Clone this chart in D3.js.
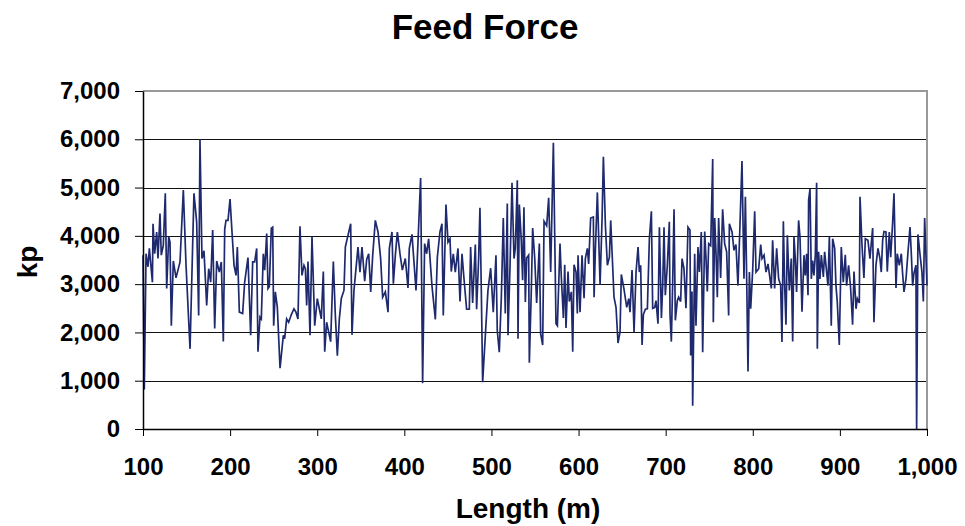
<!DOCTYPE html>
<html>
<head>
<meta charset="utf-8">
<script src="https://cdn.jsdelivr.net/npm/d3@7"></script>
<style>
  html, body { margin: 0; padding: 0; background: #fff; }
  svg { display: block; font-family: "Liberation Sans", Arial, sans-serif; }
</style>
</head>
<body>
<svg id="chart" width="965" height="526"></svg>
<script>
const chartTitle = "Feed Force";
const xTitle = "Length (m)";
const yTitle = "kp";
const xTicks = [100, 200, 300, 400, 500, 600, 700, 800, 900, 1000];
const yTicks = [0, 1000, 2000, 3000, 4000, 5000, 6000, 7000];

const lengthM = [
100,101.5,103.5,105.7,107.3,110.8,111.5,113.4,115.7,117.2,119.5,121.0,123.3,125.6,127.2,129.5,131.0,132.5,134.8,137.9,
142.5,146.3,149.4,154.0,158.5,161.6,163.9,165.4,167.7,170.0,173.1,175.4,177.7,180.0,182.3,184.6,187.6,189.9,192.2,193.8,
195.3,197.6,199.9,204.5,206.8,208.3,210.6,214.4,216.7,220.5,223.6,225.9,228.2,230.5,232.0,234.3,235.8,238.1,239.7,242.0,
243.5,245.0,247.3,248.9,250.0,251.9,254.2,257.3,261.1,262.6,264.9,267.2,270.3,273.3,275.6,277.9,280.2,282.5,284.8,286.4,
287.9,289.4,291.7,294.0,297.1,300.1,302.4,304.7,307.0,308.6,310.8,313.1,315.4,318.5,320.8,323.1,325.4,327.7,330.7,332.3,
335.3,338.4,339.9,342.2,344.5,346.8,349.1,351.4,354.5,356.8,359.1,361.4,363.7,366.7,369.8,372.8,375.1,378.2,381.3,382.8,
385.8,387.4,389.7,392.0,395.0,397.7,401.1,404.2,405.7,408.8,413.4,418.7,421.0,423.3,425.6,427.9,431.7,435.6,437.9,440.9,
443.2,444.7,447.8,450.1,452.4,453.9,456.2,458.5,461.6,463.9,466.2,468.5,471.5,474.6,476.1,478.4,481.5,483.0,485.3,486.8,
488.4,489.9,493.0,496.0,499.1,502.1,505.2,506.7,509.0,511.3,513.6,515.9,518.2,519.0,521.3,523.6,525.9,527.4,529.7,530.5,
532.0,534.3,535.8,537.3,538.9,540.4,542.7,543.5,545.8,547.3,549.7,551.9,555.0,556.5,558.8,560.4,563.4,565.7,568.0,571.1,
574.1,575.7,578.7,580.3,582.6,584.1,585.6,587.9,589.4,591.7,593.3,594.8,597.1,598.6,599.4,601.7,604.0,606.3,607.8,610.1,
611.6,613.9,617.0,617.8,619.3,621.6,624.7,627.0,628.5,630.8,633.1,635.4,636.9,640.7,643.0,645.3,647.6,649.1,652.2,655.3,
657.6,659.1,661.4,663.7,666.0,668.3,669.8,671.3,672.9,674.4,676.7,679.0,681.3,683.6,685.1,687.4,688.9,691.2,692.8,695.1,
696.6,698.1,699.6,701.9,704.2,705.0,706.5,708.0,709.6,711.1,713.4,714.9,717.2,718.8,721.0,723.3,725.6,727.9,728.7,730.2,
731.0,733.3,734.8,737.1,738.7,740.9,742.5,744.8,746.3,747.8,749.4,751.7,754.0,754.7,756.3,757.8,759.3,760.8,763.1,765.4,
767.7,770.0,772.3,773.1,776.2,778.4,780.7,783.0,785.3,787.6,789.9,791.5,793.0,794.5,796.1,797.6,799.9,802.2,803.7,806.8,
809.1,810.6,812.9,815.2,817.5,819.8,821.3,822.8,825.1,827.4,829.7,832.0,833.5,835.1,836.6,838.1,839.7,842.0,844.2,845.8,
847.3,848.8,850.3,852.6,854.2,856.5,858.8,860.3,861.8,863.4,864.1,865.7,867.2,868.7,870.2,871.8,873.3,874.1,875.6,877.1,
878.7,881.0,882.5,884.8,886.3,887.9,890.1,891.7,894.0,895.5,897.0,899.3,901.6,903.9,906.2,907.7,910.0,912.3,914.6,916.2,
918.5,920.0,922.3,923.1,925.4,927.6,929.2,932.2,934.5,937.6,939.1,941.4,943.7,946.0,947.5,949.1,950.6,952.9,954.4,956.7,
958.3,960.6,962.1,964.4,965.9,968.2,970.5,972.0,973.6,975.9,978.2,980.5,982.0,983.5,985.0,987.3,988.1,989.6,991.9,994.2,
995.8,997.3,1000
];

const feedForce = [
3600,820,3630,3360,3740,3040,4250,3630,4080,3530,4460,3600,3800,4880,2910,3980,3870,2140,3480,3130,
3460,4950,3390,1660,4880,4290,2350,6000,3530,3690,2560,3320,3040,4120,2080,3480,3250,3460,1810,4140,
4320,4320,4760,3390,3180,3770,2420,2390,3040,3550,1940,3460,3460,3740,1600,2320,2280,3630,3290,4050,
2910,2950,4160,4180,2140,2840,2520,1260,1940,1870,2280,2210,2370,2490,2420,2280,4200,3180,3390,3320,
2560,3470,1940,3980,2140,2700,2490,2280,3260,1600,2210,2010,1810,3470,2350,1520,2280,2710,2870,3770,
4010,4250,1950,2870,3320,3770,3250,3770,3060,3510,3630,2840,3600,4320,4080,3530,2730,2840,2420,3740,
4080,3010,3600,4080,3630,3290,3530,2920,3740,4030,2870,5200,950,3840,3630,3940,2970,2270,3560,4080,
4250,2350,4650,3870,3940,3260,3630,3250,3740,2640,3630,3110,2480,2480,3770,2610,3820,2480,3530,4580,
2840,970,1940,2870,3330,2420,3600,2040,1590,2700,4370,2390,4670,1940,3350,5100,3530,3740,5150,1870,
4650,3890,3080,4590,2630,3540,3600,1370,2900,4160,3530,2610,3840,1970,1740,4300,4210,4790,3250,5930,
2180,2140,3840,3110,2300,3400,2090,3260,2640,2840,1600,3400,3250,2390,3600,2420,3600,2710,3530,3740,
3420,4370,4390,2730,3700,4900,2990,4360,5640,4220,3390,3560,4320,2730,2520,1780,2010,3200,2890,2520,
2700,2420,3290,2010,3250,3770,3250,3390,1740,2370,2480,2490,3940,4510,2500,2520,2660,2180,4180,2300,
2970,4180,2770,3390,4290,2370,1810,2990,4550,2250,2660,2730,2640,3530,3320,2500,4180,4120,1520,2850,
480,3630,2140,3770,3250,4080,1590,4090,3530,2850,3840,3800,5590,2210,4370,3630,2730,4370,3130,4550,
3840,3670,2350,4250,4080,3700,3820,2970,4220,5550,3110,4810,3110,1190,3250,2490,3290,4510,3250,3320,
3820,3530,3600,3250,3420,3110,2910,3910,2910,3740,3110,2970,1800,4300,2970,2160,4010,2870,3530,1810,
3980,3530,2840,4320,3980,2430,3600,3180,3630,2770,4740,4970,3110,3490,3180,3600,5100,1660,3670,3110,
3600,3150,3670,3250,2970,3980,2140,3940,3740,2970,2630,1740,3770,3040,3610,2970,3390,2920,2160,3260,
2490,2700,2610,4810,3800,3130,3940,3910,3530,4160,2210,3390,3740,3530,3250,3910,4090,4080,3260,4080,
3560,4290,4880,2920,3630,3390,3630,3220,2840,3110,3670,4180,3630,2970,3220,3390,0,4030,3630,3250,
2640,4370,2970
];

const data = lengthM.map((m, i) => ({ x: m, y: feedForce[i] }));

const svg = d3.select("#chart");
const margin = { left: 143, right: 38, top: 91, bottom: 97 };
const W = 965, H = 526;
const x = d3.scaleLinear().domain([100, 1000]).range([margin.left, W - margin.right]);
const y = d3.scaleLinear().domain([0, 7000]).range([H - margin.bottom, margin.top]);
const fmt = d3.format(",");

// gridlines
svg.append("g")
  .selectAll("line")
  .data(yTicks.filter(d => d > 0 && d < 7000))
  .join("line")
  .attr("x1", x(100)).attr("x2", x(1000))
  .attr("y1", d => Math.round(y(d)) + 0.5).attr("y2", d => Math.round(y(d)) + 0.5)
  .attr("stroke", "#111").attr("stroke-width", 1);

// top/right border (gray)
svg.append("path")
  .attr("d", `M${x(100)},${y(7000)}H${x(1000)}V${y(0)}`)
  .attr("fill", "none").attr("stroke", "#999").attr("stroke-width", 2);

// series line
svg.append("path")
  .datum(data)
  .attr("fill", "none")
  .attr("stroke", "#1f2a6e")
  .attr("stroke-width", 1.7)
  .attr("stroke-linejoin", "miter")
  .attr("d", d3.line().x(d => x(d.x)).y(d => y(d.y)));

// axes
const xAxis = svg.append("g")
  .attr("transform", `translate(0,${y(0)})`)
  .call(d3.axisBottom(x).tickValues(xTicks).tickFormat(fmt).tickSizeInner(7).tickSizeOuter(0).tickPadding(22));
const yAxis = svg.append("g")
  .attr("transform", `translate(${x(100)},0)`)
  .call(d3.axisLeft(y).tickValues(yTicks).tickFormat(fmt).tickSizeInner(8).tickSizeOuter(0).tickPadding(15));

[xAxis, yAxis].forEach(g => {
  g.select(".domain").attr("stroke", "#000").attr("stroke-width", 1.5);
  g.selectAll(".tick line").attr("stroke", "#000").attr("stroke-width", 1);
  g.selectAll(".tick text")
    .attr("fill", "#000")
    .attr("font-family", "'Liberation Sans', Arial, sans-serif")
    .attr("font-weight", "bold")
    .attr("font-size", 24);
});

// titles
svg.append("text")
  .attr("x", 485).attr("y", 39)
  .attr("text-anchor", "middle")
  .attr("font-weight", "bold").attr("font-size", 35)
  .text(chartTitle);

svg.append("text")
  .attr("x", 528).attr("y", 518)
  .attr("text-anchor", "middle")
  .attr("font-weight", "bold").attr("font-size", 28)
  .text(xTitle);

svg.append("text")
  .attr("transform", "translate(37,262) rotate(-90)")
  .attr("text-anchor", "middle")
  .attr("font-weight", "bold").attr("font-size", 28)
  .text(yTitle);
</script>
</body>
</html>
